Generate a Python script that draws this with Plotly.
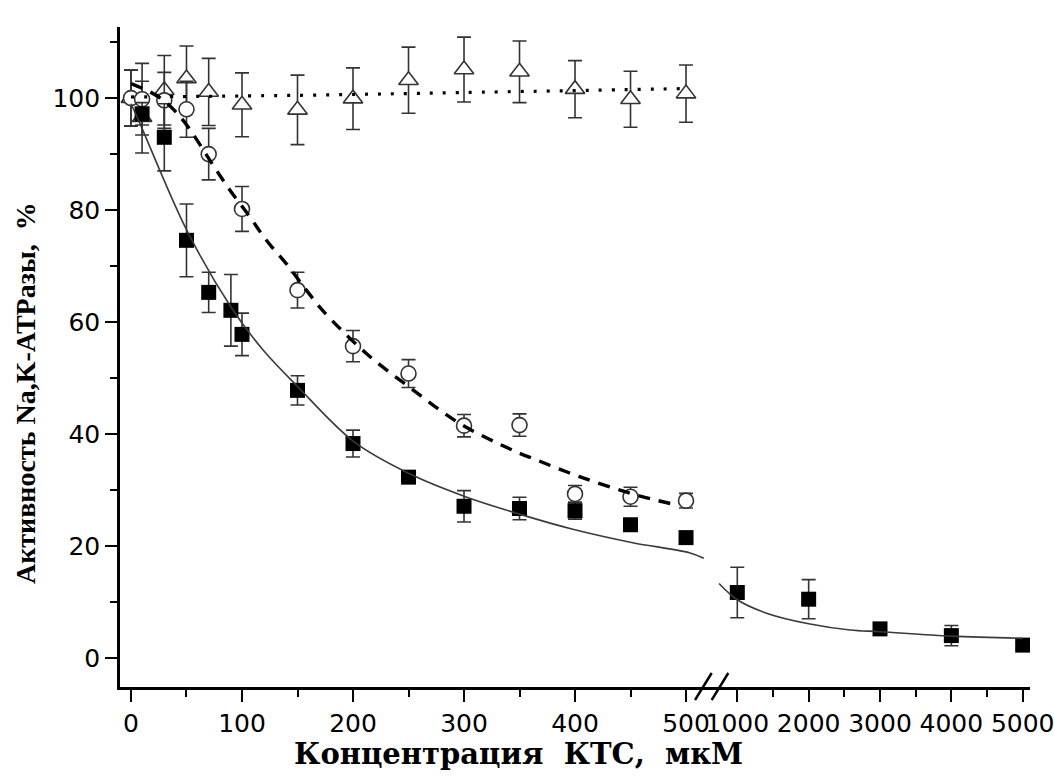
import plotly.graph_objects as go

W, H = 1054, 782

# --- data: Na,K-ATPase activity (%) vs concentration (µM) ---
# filled squares, low-concentration segment
sq_conc = [10, 30, 50, 70, 90, 100, 150, 200, 250, 300, 350, 400, 450, 500]
sq_act = [97.2, 93.0, 74.6, 65.3, 62.1, 57.8, 47.8, 38.3, 32.3, 27.1, 26.7, 26.3, 23.8, 21.5]
sq_err = [2.0, 6.0, 6.5, 3.6, 6.4, 3.8, 2.6, 2.4, 1.0, 2.8, 2.0, 1.5, 0.8, 0.8]

# filled squares, high-concentration segment
sq_conc_hi = [1000, 2000, 3000, 4000, 5000]
sq_act_hi = [11.7, 10.5, 5.2, 4.0, 2.3]
sq_err_hi = [4.5, 3.5, 1.0, 1.8, 0.5]

# open circles
ci_conc = [0, 10, 30, 50, 70, 100, 150, 200, 250, 300, 350, 400, 450, 500]
ci_act = [100.0, 99.8, 99.6, 98.0, 90.0, 80.2, 65.7, 55.7, 50.8, 41.5, 41.6, 29.3, 28.8, 28.1]
ci_err = [5.0, 6.4, 5.0, 5.0, 4.6, 4.0, 3.2, 2.8, 2.5, 2.0, 2.0, 1.5, 1.7, 1.3]

# open triangles
tr_conc = [0, 10, 30, 50, 70, 100, 150, 200, 250, 300, 350, 400, 450, 500]
tr_act = [100.0, 96.6, 101.4, 103.5, 101.1, 98.8, 97.9, 99.9, 103.2, 105.1, 104.7, 101.6, 99.8, 100.8]
tr_err = [5.0, 6.4, 6.2, 5.8, 6.0, 5.7, 6.2, 5.5, 5.9, 5.8, 5.5, 5.1, 5.0, 5.1]

# fitted curves
fit_sq_x = [0, 8, 50, 90, 119, 150, 201, 251, 300, 350, 398, 452, 503, 516]
fit_sq_y = [99.0, 95.5, 76.5, 62.7, 55.0, 48.5, 38.6, 32.9, 28.9, 25.7, 23.0, 20.6, 18.8, 17.8]
fit_sq_hi_x = [744, 1000, 1411, 2000, 2580, 3000, 4000, 5000]
fit_sq_hi_y = [13.3, 10.4, 8.0, 6.1, 5.0, 4.7, 3.9, 3.5]
fit_ci_x = [0, 25, 45, 77, 89, 107, 122, 140, 158, 173, 212, 254, 296, 344, 365, 404, 450, 492]
fit_ci_y = [102.6, 100.2, 96.5, 87.1, 83.6, 78.8, 74.6, 70.4, 65.7, 62.0, 54.4, 47.9, 41.9, 37.1, 35.4, 32.4, 29.4, 27.3]
fit_tr_x = [0, 150, 300, 500]
fit_tr_y = [100.2, 100.5, 101.0, 101.7]

x_ticks_lo = [0, 100, 200, 300, 400, 500]
x_ticks_hi = [1000, 2000, 3000, 4000, 5000]
y_ticks = [0, 20, 40, 60, 80, 100]


def px(x):
    return x / W


def py(y):
    return 1 - y / H


INK = "#333333"
TICK_FONT = dict(family="DejaVu Sans, Arial, sans-serif", size=25, color="black")
XTITLE_FONT = dict(family="DejaVu Serif, Times New Roman, serif", size=29, color="black")
YTITLE_FONT = dict(family="Liberation Serif, Times New Roman, serif", size=28, color="black")

fig = go.Figure()


def err(vals):
    return dict(type="data", array=vals, visible=True, color=INK, thickness=1.6, width=7)


# data points (white-filled open symbols so bars stop at the outline)
fig.add_trace(go.Scatter(
    x=tr_conc, y=tr_act, mode="markers", xaxis="x", yaxis="y",
    marker=dict(symbol="triangle-up", size=17, color="white", line=dict(color=INK, width=1.6)),
    error_y=err(tr_err), showlegend=False))
fig.add_trace(go.Scatter(
    x=ci_conc, y=ci_act, mode="markers", xaxis="x", yaxis="y",
    marker=dict(symbol="circle", size=15, color="white", line=dict(color=INK, width=1.6)),
    error_y=err(ci_err), showlegend=False))
fig.add_trace(go.Scatter(
    x=sq_conc, y=sq_act, mode="markers", xaxis="x", yaxis="y",
    marker=dict(symbol="square", size=15, color="black", line=dict(color="black", width=0)),
    error_y=err(sq_err), showlegend=False))
fig.add_trace(go.Scatter(
    x=sq_conc_hi, y=sq_act_hi, mode="markers", xaxis="x2", yaxis="y",
    marker=dict(symbol="square", size=15, color="black", line=dict(color="black", width=0)),
    error_y=err(sq_err_hi), showlegend=False))

# fitted curves on top
fig.add_trace(go.Scatter(
    x=fit_tr_x, y=fit_tr_y, mode="lines", xaxis="x", yaxis="y",
    line=dict(color="black", width=3.2, dash="3px,10px", shape="spline"), showlegend=False))
fig.add_trace(go.Scatter(
    x=fit_ci_x, y=fit_ci_y, mode="lines", xaxis="x", yaxis="y",
    line=dict(color="black", width=3.4, dash="12px,9px", shape="spline"), showlegend=False))
fig.add_trace(go.Scatter(
    x=fit_sq_x, y=fit_sq_y, mode="lines", xaxis="x", yaxis="y",
    line=dict(color="#3a3a3a", width=1.6, shape="spline"), showlegend=False))
fig.add_trace(go.Scatter(
    x=fit_sq_hi_x, y=fit_sq_hi_y, mode="lines", xaxis="x2", yaxis="y",
    line=dict(color="#3a3a3a", width=1.6, shape="spline"), showlegend=False))

# axis geometry in pixels
X0, XB, X1 = 120, 711, 1030
Y_TOP, Y_BOT = 27, 687

axis_common = dict(
    showgrid=False, zeroline=False, showline=True, linecolor="black", linewidth=2.6,
    ticks="outside", ticklen=12, tickwidth=2.4, tickcolor="black", tickfont=TICK_FONT,
    automargin=False, ticklabeloverflow="allow",
)

fig.update_layout(
    width=W, height=H,
    margin=dict(l=0, r=0, t=0, b=0, autoexpand=False),
    paper_bgcolor="white", plot_bgcolor="white",
    xaxis=dict(
        domain=[px(X0), px(XB)], range=[-9.9, 522.5], anchor="y",
        tickvals=x_ticks_lo, ticktext=[str(v) for v in x_ticks_lo],
        minor=dict(tickvals=[50, 150, 250, 350, 450], ticks="outside", ticklen=7,
                   tickwidth=2.4, tickcolor="black"),
        **axis_common),
    xaxis2=dict(
        domain=[px(XB), px(X1)], range=[631.4, 5102.3], anchor="y",
        tickvals=x_ticks_hi, ticktext=[str(v) for v in x_ticks_hi],
        minor=dict(tickvals=[1500, 2500, 3500, 4500], ticks="outside", ticklen=7,
                   tickwidth=2.4, tickcolor="black"),
        **axis_common),
    yaxis=dict(
        domain=[py(Y_BOT), py(Y_TOP)], range=[-5.18, 112.7], anchor="x",
        tickvals=y_ticks, ticktext=[str(v) for v in y_ticks],
        minor=dict(tickvals=[10, 30, 50, 70, 90, 110], ticks="outside", ticklen=7,
                   tickwidth=2.4, tickcolor="black"),
        **axis_common),
)

# axis break marks
for x_top, x_bot in [(711.7, 695.0), (728.3, 711.7)]:
    fig.add_shape(type="line", xref="paper", yref="paper",
                  x0=px(x_bot), y0=py(700), x1=px(x_top), y1=py(673),
                  line=dict(color="black", width=2.4))

fig.add_annotation(
    text="<b>Концентрация  КТС,  мкМ</b>", xref="paper", yref="paper",
    x=px(518), y=py(754), showarrow=False, font=XTITLE_FONT,
    xanchor="center", yanchor="middle")
fig.add_annotation(
    text="<b>Активность Na,K-ATPазы,  %</b>", xref="paper", yref="paper",
    x=px(25), y=py(393), showarrow=False, font=YTITLE_FONT, textangle=-90,
    xanchor="center", yanchor="middle")

fig.write_html("out.html")
